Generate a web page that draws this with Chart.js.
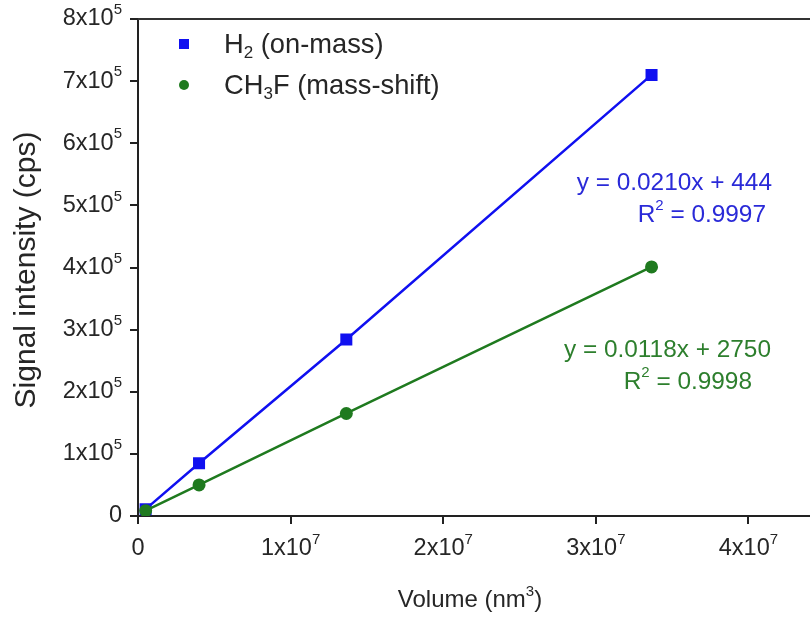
<!DOCTYPE html>
<html>
<head>
<meta charset="utf-8">
<script src="https://cdn.jsdelivr.net/npm/chart.js@4.4.0/dist/chart.umd.min.js"></script>
<style>
  html, body { margin: 0; padding: 0; background: #fff; overflow: hidden; }
  #wrap { width: 810px; height: 619px; overflow: hidden; }
</style>
</head>
<body>
<div id="wrap"><canvas id="volChart" width="818" height="619"></canvas></div>
<script>
// volume in nm^3
const volume = [5e5, 4.0e6, 1.365e7, 3.365e7];
const h2Signal = [11000, 85000, 284000, 710000];
const ch3fSignal = [8500, 50000, 165000, 401000];

// tick labels: [mantissa, exponent]
const yTicks = [[0, ''], [1, 5], [2, 5], [3, 5], [4, 5], [5, 5], [6, 5], [7, 5], [8, 5]];
const xTicks = [[0, ''], [1, 7], [2, 7], [3, 7], [4, 7]];

const blue = '#1010f0';
const green = '#1f7a1f';
const blueText = '#2a2ad8';
const greenText = '#2d7f2d';
const FONT = 'Arial, "Liberation Sans", sans-serif';

function drawSup(ctx, base, sup, x, y, size, align) {
    // draws "base" + superscript, anchored by align at x
    ctx.font = size + 'px ' + FONT;
    const wb = ctx.measureText(base).width;
    const supSize = Math.round(size * 0.62);
    ctx.font = supSize + 'px ' + FONT;
    const ws = sup === '' ? 0 : ctx.measureText(String(sup)).width;
    let start = x;
    if (align === 'right') start = x - wb - ws;
    if (align === 'center') start = x - (wb + ws) / 2;
    ctx.textAlign = 'left';
    ctx.textBaseline = 'middle';
    ctx.font = size + 'px ' + FONT;
    ctx.fillText(base, start, y);
    if (sup !== '') {
        ctx.font = supSize + 'px ' + FONT;
        ctx.fillText(String(sup), start + wb, y - size * 0.38);
    }
}

// text pieces: [text, mode] mode: n normal, b sub, p sup
function drawRich(ctx, parts, x, y, size, align, color) {
    const small = Math.round(size * 0.62);
    let total = 0;
    parts.forEach(p => {
        ctx.font = (p[1] === 'n' ? size : small) + 'px ' + FONT;
        total += ctx.measureText(p[0]).width;
    });
    let cx = x;
    if (align === 'right') cx = x - total;
    if (align === 'center') cx = x - total / 2;
    ctx.fillStyle = color;
    ctx.textAlign = 'left';
    ctx.textBaseline = 'middle';
    parts.forEach(p => {
        let dy = 0;
        if (p[1] === 'b') dy = size * 0.32;
        if (p[1] === 'p') dy = -size * 0.36;
        ctx.font = (p[1] === 'n' ? size : small) + 'px ' + FONT;
        ctx.fillText(p[0], cx, y + dy);
        cx += ctx.measureText(p[0]).width;
    });
}

const decorPlugin = {
    id: 'decor',
    afterDraw(chart) {
        const ctx = chart.ctx;
        const area = chart.chartArea;
        const xs = chart.scales.x;
        const ys = chart.scales.y;
        ctx.save();

        // top frame line
        ctx.strokeStyle = '#333';
        ctx.lineWidth = 2;
        ctx.beginPath();
        ctx.moveTo(area.left, area.top);
        ctx.lineTo(chart.width, area.top);
        ctx.stroke();

        // tick labels
        ctx.fillStyle = '#262626';
        yTicks.forEach(t => {
            const v = t[0] * 1e5;
            const base = t[1] === '' ? '0' : t[0] + 'x10';
            drawSup(ctx, base, t[1], area.left - 16, ys.getPixelForValue(v), 23.5, 'right');
        });
        xTicks.forEach(t => {
            const v = t[0] * 1e7;
            const base = t[1] === '' ? '0' : t[0] + 'x10';
            drawSup(ctx, base, t[1], xs.getPixelForValue(v), area.bottom + 33, 23.5, 'center');
        });

        // axis titles
        drawRich(ctx, [['Volume (nm', 'n'], ['3', 'p'], [')', 'n']], 470, 600, 24, 'center', '#262626');
        ctx.save();
        ctx.translate(27, 270);
        ctx.rotate(-Math.PI / 2);
        drawRich(ctx, [['Signal intensity (cps)', 'n']], 0, 0, 30, 'center', '#262626');
        ctx.restore();

        // legend
        ctx.fillStyle = blue;
        ctx.fillRect(179, 39, 10, 10);
        drawRich(ctx, [['H', 'n'], ['2', 'b'], [' (on-mass)', 'n']], 224, 45, 27.3, 'left', '#262626');
        ctx.fillStyle = green;
        ctx.beginPath();
        ctx.arc(184, 85, 5, 0, Math.PI * 2);
        ctx.fill();
        drawRich(ctx, [['CH', 'n'], ['3', 'b'], ['F (mass-shift)', 'n']], 224, 86, 27.3, 'left', '#262626');

        // fit annotations
        drawRich(ctx, [['y = 0.0210x + 444', 'n']], 772, 183, 24.4, 'right', blueText);
        drawRich(ctx, [['R', 'n'], ['2', 'p'], [' = 0.9997', 'n']], 766, 215, 24.4, 'right', blueText);
        drawRich(ctx, [['y = 0.0118x + 2750', 'n']], 771, 350, 24.4, 'right', greenText);
        drawRich(ctx, [['R', 'n'], ['2', 'p'], [' = 0.9998', 'n']], 752, 382, 24.4, 'right', greenText);

        ctx.restore();
    }
};

const ctx = document.getElementById('volChart').getContext('2d');
new Chart(ctx, {
    type: 'scatter',
    data: {
        datasets: [{
            label: 'CH3F (mass-shift)',
            data: volume.map((v, i) => ({ x: v, y: ch3fSignal[i] })),
            showLine: true,
            borderColor: green,
            backgroundColor: green,
            borderWidth: 2.5,
            pointStyle: 'circle',
            pointRadius: 6.5,
            pointBorderWidth: 0
        }, {
            label: 'H2 (on-mass)',
            data: volume.map((v, i) => ({ x: v, y: h2Signal[i] })),
            showLine: true,
            borderColor: blue,
            backgroundColor: blue,
            borderWidth: 2.5,
            pointStyle: 'rect',
            pointRadius: 8.5,
            pointBorderWidth: 0
        }]
    },
    options: {
        responsive: false,
        animation: false,
        layout: { padding: { left: 130, top: 19, right: 0, bottom: 95 } },
        plugins: {
            legend: { display: false },
            tooltip: { enabled: false }
        },
        scales: {
            x: {
                type: 'linear',
                bounds: 'data',
                min: 0,
                max: 4.4e7,
                afterBuildTicks: scale => { scale.ticks = xTicks.map(t => ({ value: t[0] * 1e7 })); },
                ticks: { display: false },
                grid: { drawOnChartArea: false, drawTicks: true, tickLength: 8, color: '#222', lineWidth: 2 },
                border: { color: '#222', width: 2 }
            },
            y: {
                type: 'linear',
                bounds: 'data',
                min: 0,
                max: 8e5,
                afterBuildTicks: scale => { scale.ticks = yTicks.map(t => ({ value: t[0] * 1e5 })); },
                ticks: { display: false },
                grid: { drawOnChartArea: false, drawTicks: true, tickLength: 8, color: '#222', lineWidth: 2 },
                border: { color: '#222', width: 2 }
            }
        }
    },
    plugins: [decorPlugin]
});
</script>
</body>
</html>
